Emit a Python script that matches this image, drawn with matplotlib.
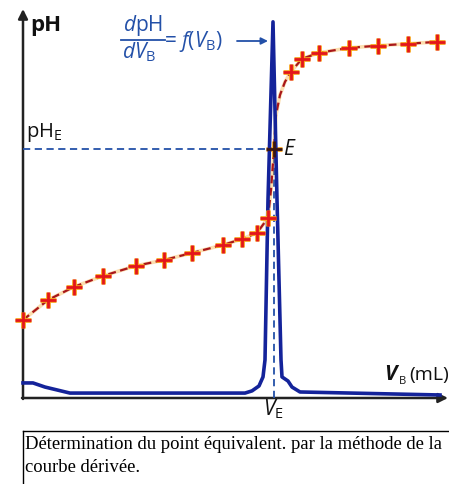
import numpy as np
import matplotlib.pyplot as plt

plt.rcParams['mathtext.fontset'] = 'custom'
plt.rcParams['mathtext.rm'] = 'Open Sans'
plt.rcParams['mathtext.it'] = 'Open Sans:italic'
plt.rcParams['mathtext.bf'] = 'Open Sans:bold'

# pH = f(V_B) : measured points (crosses)
v_mes = [0.0, 1.25, 2.55, 4.0, 5.65, 7.05, 8.45, 10.0, 10.95, 11.7, 12.25,
         13.4, 13.95, 14.8, 16.3, 17.75, 19.25, 20.7]
ph_mes = [2.85, 3.58, 4.06, 4.46, 4.83, 5.04, 5.30, 5.59, 5.81, 6.03, 6.58,
          11.92, 12.39, 12.61, 12.79, 12.87, 12.94, 13.01]

# dashed curve through the points (goes through E)
v_fit = [0.0, 1.25, 2.55, 4.0, 5.65, 7.05, 8.45, 10.0, 10.95, 11.7, 12.25,
         12.4, 12.55, 12.65, 12.85, 13.1, 13.4, 13.95, 14.8, 16.3, 17.75,
         19.25, 20.7]
ph_fit = [2.85, 3.58, 4.06, 4.46, 4.83, 5.04, 5.30, 5.59, 5.81, 6.03, 6.58,
          7.6, 9.10, 10.34, 11.07, 11.55, 11.92, 12.39, 12.61, 12.79, 12.87,
          12.94, 13.01]

# equivalence point
v_E = 12.55
ph_E = 9.10

# derivative dpH/dV_B (same vertical frame, arbitrary units)
v_der = [0.0, 0.5, 1.1, 2.35, 11.1, 11.45, 11.8, 12.0, 12.1, 12.25, 12.5,
         12.7, 12.9, 12.95, 13.25, 13.45, 13.85, 20.85]
der = [0.55, 0.55, 0.40, 0.18, 0.18, 0.26, 0.44, 0.77, 1.39, 7.24, 13.74,
       7.24, 1.39, 0.77, 0.62, 0.40, 0.22, 0.11]

caption = ["Détermination du point équivalent. par la méthode de la",
           "courbe dérivée."]

blue_d = '#14239a'
blue_t = '#2350a8'
red = '#e3161b'
orange = '#f7a21b'

W, H = 449, 484
fig = plt.figure(figsize=(W / 100, H / 100), dpi=100)

# overlay in pixel units for labels / frame
ov = fig.add_axes([0, 0, 1, 1])
ov.set_xlim(0, W)
ov.set_ylim(H, 0)
ov.axis('off')

# data axes, origin of the graph at pixel (23, 398)
x0, y0, x1, y1 = 23, 398, 449, 12
ax = fig.add_axes([x0 / W, (H - y0) / H, (x1 - x0) / W, (y0 - y1) / H])
ax.patch.set_alpha(0)
ax.set_xlim(0, 21.3)
ax.set_ylim(0, 14.1)
for s in ax.spines.values():
    s.set_visible(False)
ax.set_xticks([])
ax.set_yticks([])

# axes with arrows
ov.annotate('', xy=(23, 9), xytext=(23, 399),
            arrowprops=dict(arrowstyle='-|>', lw=1.8, color='#222222',
                            mutation_scale=14, shrinkA=0, shrinkB=0))
ov.annotate('', xy=(448, 398), xytext=(22, 398),
            arrowprops=dict(arrowstyle='-|>', lw=1.8, color='#222222',
                            mutation_scale=14, shrinkA=0, shrinkB=0))

# E construction lines
ax.plot([0, v_E], [ph_E, ph_E], color=blue_t, lw=1.3, dashes=(4, 2.5),
        clip_on=False)
ax.plot([v_E, v_E], [0, ph_E], color=blue_t, lw=1.3, dashes=(4, 2.5),
        clip_on=False)

# pH curve
ax.plot(v_fit, ph_fit, color=orange, lw=2.6, alpha=0.35, clip_on=False)
ax.plot(v_fit, ph_fit, color='#a8161a', lw=1.6, dashes=(3.5, 2),
        clip_on=False)

# derivative
ax.plot(v_der, der, color=blue_d, lw=2.6, solid_joinstyle='round',
        clip_on=False, zorder=4)

# crosses
ax.plot(v_mes, ph_mes, '+', color=orange, ms=11.5, mew=3.4, clip_on=False,
        zorder=5)
ax.plot(v_mes, ph_mes, '+', color=red, ms=11, mew=2.0, clip_on=False,
        zorder=6)
ax.plot([v_E], [ph_E], '+', color=orange, ms=11.5, mew=3.4, clip_on=False,
        zorder=3)
ax.plot([v_E], [ph_E], '+', color='#3a1410', ms=11, mew=2.0, clip_on=False,
        zorder=5)

# labels
ov.text(30, 26, 'pH', fontsize=16, weight='bold', family='Open Sans',
        va='center', ha='left', color='#111111')
ov.text(26, 132, r'pH$_{\mathrm{E}}$', fontsize=14.5, family='Open Sans',
        va='center', ha='left', color='#111111')
ov.text(283, 149, r'$E$', fontsize=15, va='center', ha='left',
        color='#111111')
ov.text(273, 409, r'$V_{\mathrm{E}}$', fontsize=15, va='center',
        ha='center', color='#111111')
ov.text(384, 375, 'V', fontsize=15, weight='bold', style='italic',
        family='Open Sans', va='center', ha='left', color='#111111')
ov.text(399, 382, 'B', fontsize=8, family='Open Sans', va='center',
        ha='left', color='#111111')
ov.text(409, 375, '(mL)', fontsize=14, family='Open Sans', va='center',
        ha='left', color='#111111')

# dpH/dV_B = f(V_B)
ov.text(143, 25, r'$d$pH', fontsize=15, family='Open Sans', va='center',
        ha='center', color=blue_t)
ov.plot([121, 165], [40, 40], color=blue_t, lw=1.3)
ov.text(139, 52, r'$dV_{\mathrm{B}}$', fontsize=15, va='center',
        ha='center', color=blue_t)
ov.text(164, 41, r'= $f(V_{\mathrm{B}})$', fontsize=15, family='Open Sans',
        va='center', ha='left', color=blue_t)
ov.annotate('', xy=(268, 41), xytext=(237, 41),
            arrowprops=dict(arrowstyle='-|>', lw=1.3, color=blue_t,
                            mutation_scale=10, shrinkA=0, shrinkB=0))

# caption frame
ov.plot([23, W], [431, 431], color='k', lw=1)
ov.plot([23, 23], [431, H], color='k', lw=1)
ov.text(25, 449, caption[0], fontsize=13.4, family='Liberation Serif',
        va='baseline', ha='left')
ov.text(25, 472, caption[1], fontsize=13.4, family='Liberation Serif',
        va='baseline', ha='left')

fig.savefig('out.png', dpi=100)
